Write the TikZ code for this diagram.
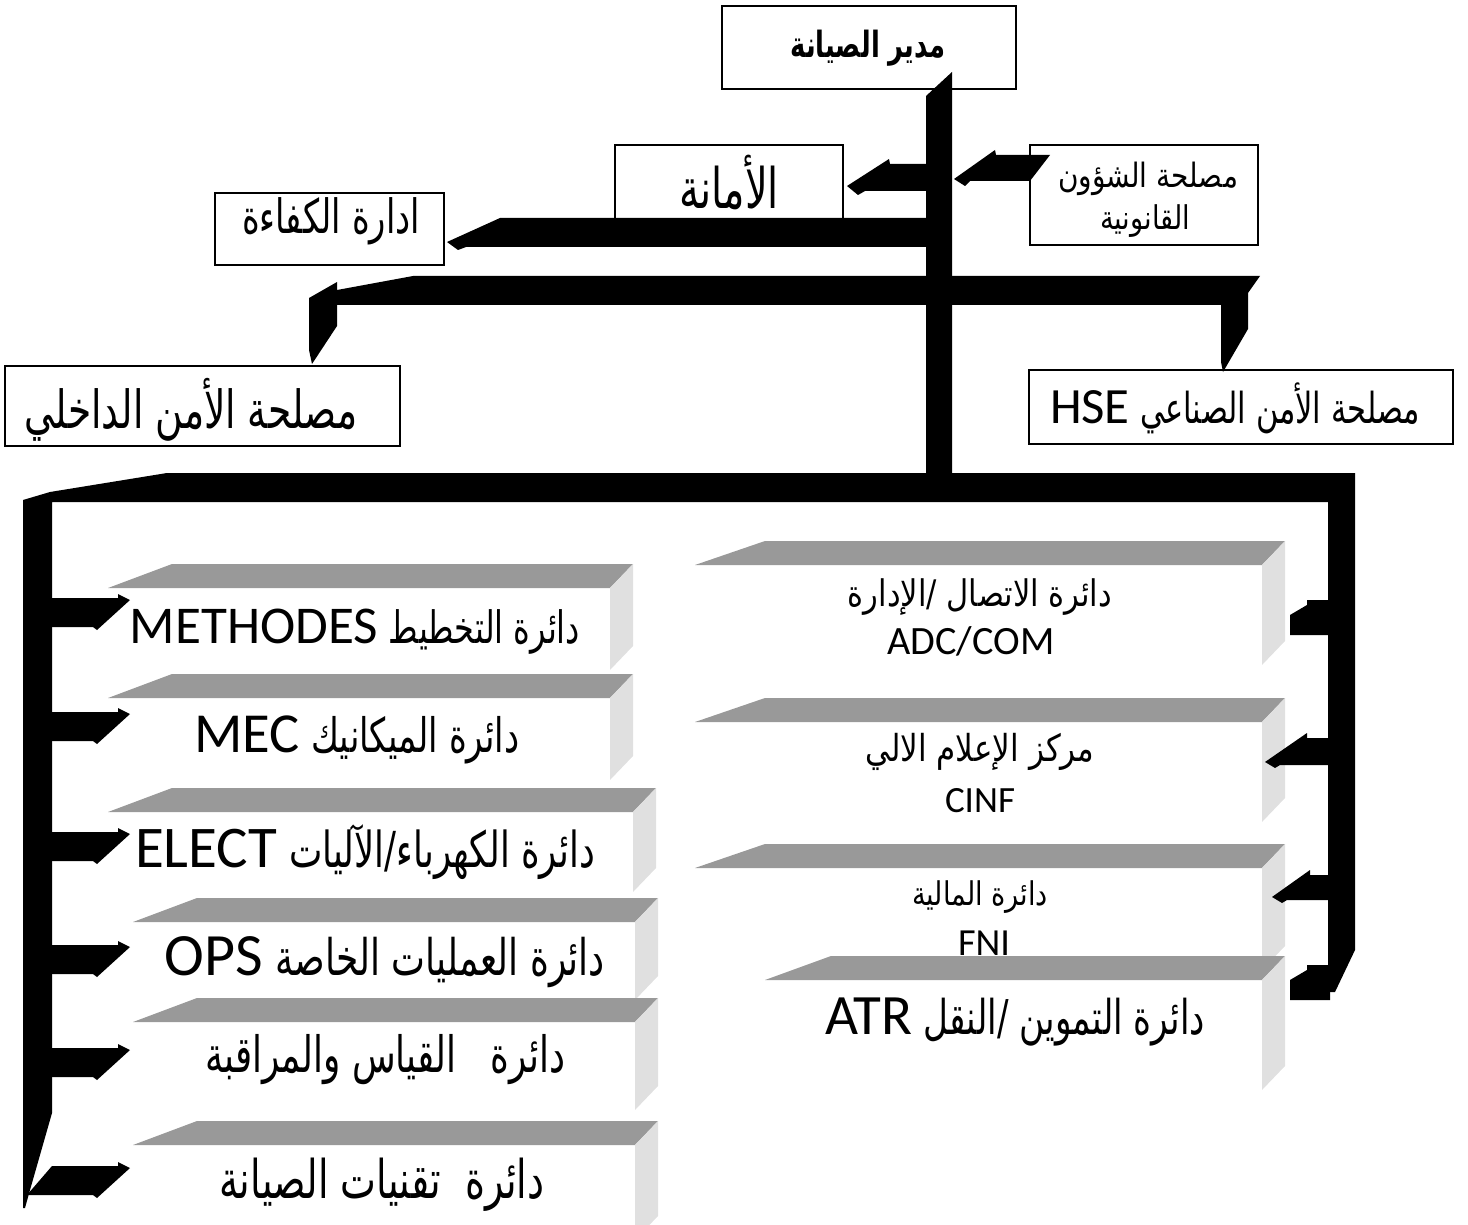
\documentclass[tikz,border=0pt]{standalone}
\usepackage{graphicx}
\usepackage{fontspec}
\setmainfont{Carlito}
\newfontfamily\arfont[Script=Arabic]{DejaVu Sans}
\newfontfamily\latfont{Carlito}
\TeXXeTstate=1
\newcommand\AR[1]{\scalebox{1}[1.4]{\arfont\beginR #1\endR}}
\newcommand\ARS[1]{\scalebox{1}[1.2]{\arfont\beginR #1\endR}}
\newcommand\ARB[1]{\scalebox{1}[1.4]{\arfont\bfseries\beginR #1\endR}}
\newcommand\LT[1]{{\latfont\fontsize{50}{60}\selectfont #1}}
\newcommand\gap{\hspace{10pt}}
\definecolor{topgray}{RGB}{153,153,153}
\definecolor{sidegray}{RGB}{224,224,224}
\tikzset{
  box/.style={draw=black, line width=1.3pt, fill=white, inner sep=0pt},
  lbl/.style={inner sep=0pt, outer sep=0pt, font=\fontsize{30}{36}\selectfont},
}
\newcommand\fitw[2]{\resizebox{#1pt}{!}{#2}}
\newcommand\shelf[6]{%
  \fill[white] (#2,#4) rectangle (#3,#5);
  \fill[topgray] (#2,#4) -- (#3,#4) -- ({#3+23},{#4-24}) -- ({#2+#6},{#4-24}) -- cycle;
  \fill[sidegray] (#3,#4) -- ({#3+23},{#4-24}) -- ({#3+23},{#5-24}) -- (#3,#5) -- cycle;
  \coordinate (#1) at ({(#2+#3)/2},{(#4+#5)/2});
}
\newcommand\larrow[1]{%
  \fill (40,#1) -- (118,#1) -- (118,{#1-4}) -- (130,{#1+2}) -- (97,{#1+32}) -- (93,{#1+29}) -- (40,{#1+29}) -- cycle;}
\begin{document}
\begin{tikzpicture}[x=1pt,y=-1pt]
\useasboundingbox (0,0) rectangle (1468,1225);
% ---- top boxes
\node[box, minimum width=294pt, minimum height=83pt] (dir) at (869,47.5) {};
\node[box, minimum width=228pt, minimum height=85pt] (amana) at (729,187.5) {};
\node[box, minimum width=228pt, minimum height=100pt] (shuun) at (1144,195) {};
\node[box, minimum width=229pt, minimum height=72pt] (kafaa) at (329.5,229) {};
\node[box, minimum width=395pt, minimum height=80pt] (amnd) at (202.5,406) {};
\node[box, minimum width=424pt, minimum height=74pt] (hse) at (1241,407) {};
\node[lbl] (tdir) at (868,48) {\fitw{155}{\ARB{مدير الصيانة}}};
\node[lbl] (tamana) at (729,182) {\fitw{100}{\AR{الأمانة}}};
\node[lbl] (tshuun1) at (1148,179) {\fitw{180}{\ARS{مصلحة الشؤون}}};
\node[lbl] (tshuun2) at (1145,221) {\fitw{90}{\ARS{القانونية}}};
\node[lbl] (tkafaa) at (331,221) {\fitw{178}{\AR{ادارة الكفاءة}}};
\node[lbl] (tamnd) at (191,410) {\fitw{333}{\AR{مصلحة الأمن الداخلي}}};
\node[lbl] (thse) at (1235,408) {\fitw{370}{\LT{HSE}\gap\AR{مصلحة الأمن الصناعي}}};
% ---- upper connectors
\fill (1260,276) -- (1248,293) -- (1248,329) -- (1223,372) -- (1221,362) -- (1221,305) -- (337,305) -- (337,326) -- (312,364) -- (309,350) -- (309,298) -- (337,282) -- (337,290) -- (413,276) -- cycle;
\fill (926,218) -- (500,218) -- (447,242) -- (458,250) -- (466,247) -- (926,247) -- cycle;
\fill (926,164) -- (890,164) -- (889,159) -- (847,186) -- (858,195) -- (865,191) -- (926,191) -- cycle;
\fill (1050,155) -- (996,155) -- (995,150) -- (954,179) -- (965,186) -- (970,181) -- (1030,181) -- cycle;
\fill (952,72) -- (952,500) -- (926,500) -- (926,96) -- cycle;
% ---- left shelves
\shelf{s1}{108}{610}{588}{670}{64}
\node[lbl] (t1) at (355,632) {\fitw{450}{\LT{METHODES}\gap\AR{دائرة التخطيط}}};
\shelf{s2}{108}{610}{698}{780}{64}
\node[lbl] (t2) at (357,740) {\fitw{325}{\LT{MEC}\gap\AR{دائرة الميكانيك}}};
\shelf{s3}{108}{633}{812}{892}{64}
\node[lbl] (t3) at (365,852) {\fitw{460}{\LT{ELECT}\gap\AR{دائرة الكهرباء/الآليات}}};
\shelf{s4}{133}{635}{922}{1000}{64}
\node[lbl] (t4) at (385,962) {\fitw{440}{\LT{OPS}\gap\AR{دائرة العمليات الخاصة}}};
\shelf{s5}{133}{635}{1022}{1110}{64}
\node[lbl] (t5) at (385,1060) {\fitw{360}{\AR{دائرة\ \ \ القياس والمراقبة}}};
\shelf{s6}{133}{635}{1145}{1240}{64}
\node[lbl] (t6) at (382,1185) {\fitw{325}{\AR{دائرة\ \ تقنيات الصيانة}}};
% ---- right shelves
\shelf{r1}{695}{1262}{565}{665}{70}
\node[lbl] (u1a) at (980,597) {\fitw{264}{\ARS{دائرة الاتصال /الإدارة}}};
\node[lbl] (u1b) at (971,641) {\fitw{167}{\latfont ADC/COM}};
\shelf{r2}{695}{1262}{722}{822}{70}
\node[lbl] (u2a) at (980,752) {\fitw{229}{\ARS{مركز الإعلام الالي}}};
\node[lbl] (u2b) at (980,801) {\fitw{70}{\latfont CINF}};
\shelf{r3}{695}{1262}{868}{970}{70}
\node[lbl] (u3a) at (980,897) {\fitw{136}{\ARS{دائرة المالية}}};
\node[lbl] (u3b) at (984,943) {\fitw{52}{\latfont FNI}};
\shelf{r4}{765}{1262}{980}{1090}{66}
\node[lbl] (u4) at (1015,1022) {\fitw{380}{\LT{ATR}\gap\AR{دائرة التموين /النقل}}};
% ---- lower bus
\fill (167,473) -- (1355,473) -- (1355,950) -- (1335,992) -- (1328,992) -- (1328,502) -- (52,502) -- (52,1113) -- (30,1190) -- (25,1208) -- (23,1208) -- (23,500) -- (50,492) -- cycle;
\larrow{598}
\larrow{712}
\larrow{832}
\larrow{945}
\larrow{1048}
\fill (27,1195) -- (52,1166) -- (118,1166) -- (118,1162) -- (130,1168) -- (97,1198) -- (93,1195) -- cycle;
% right arrows
\fill (1330,600) -- (1307,600) -- (1307,605) -- (1290,615) -- (1290,635) -- (1330,635) -- cycle;
\fill (1330,738) -- (1307,738) -- (1307,733) -- (1265,762) -- (1275,768) -- (1280,765) -- (1330,765) -- cycle;
\fill (1330,875) -- (1310,875) -- (1310,870) -- (1272,897) -- (1282,903) -- (1287,900) -- (1330,900) -- cycle;
\fill (1330,965) -- (1307,965) -- (1307,970) -- (1290,980) -- (1290,1000) -- (1330,1000) -- cycle;
\end{tikzpicture}
\end{document}
